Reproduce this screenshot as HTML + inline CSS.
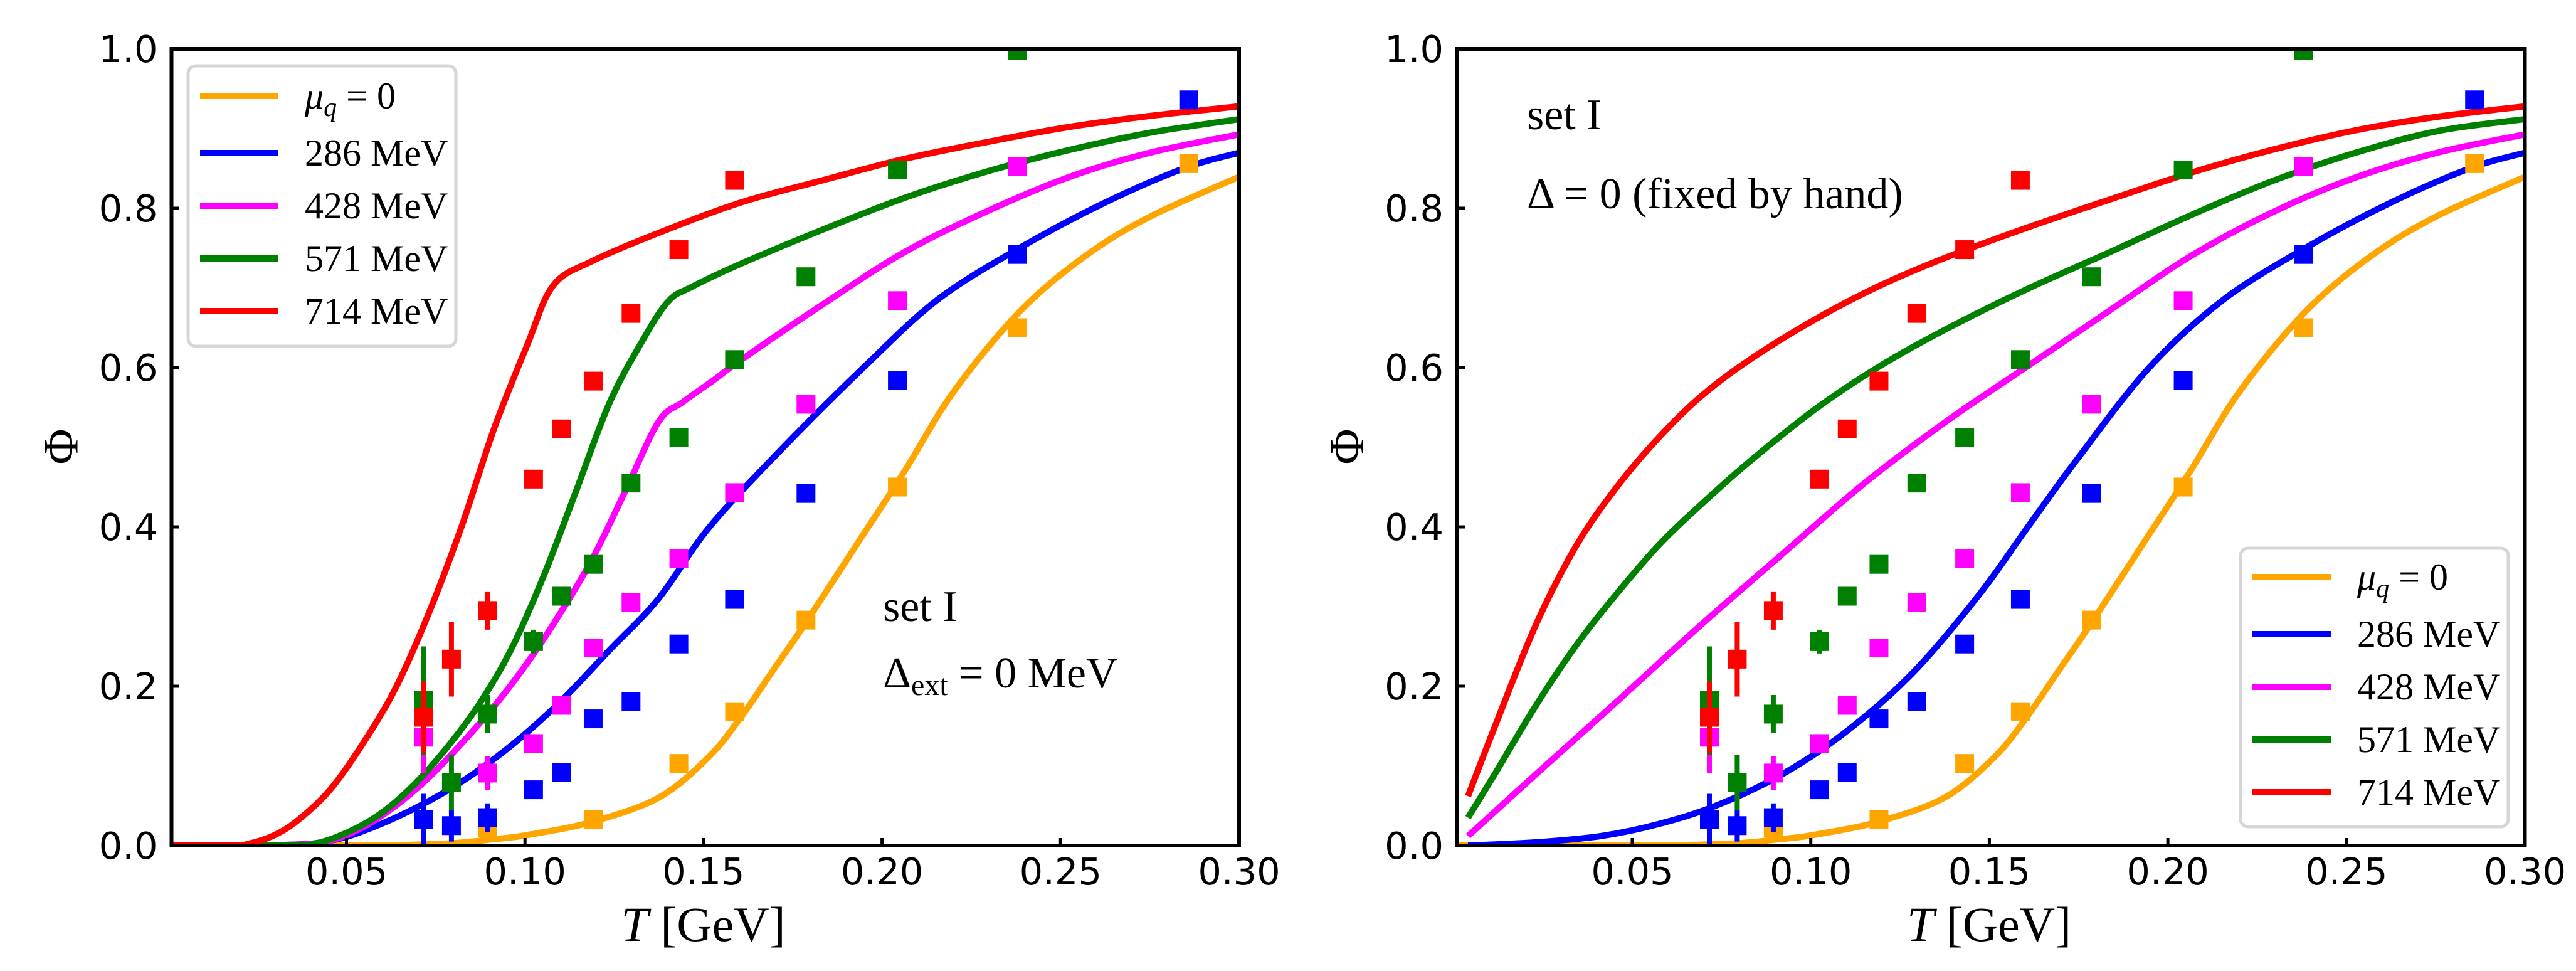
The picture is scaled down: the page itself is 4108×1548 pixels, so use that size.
<!DOCTYPE html>
<html><head><meta charset="utf-8"><style>
html,body{margin:0;padding:0;background:#fff}
svg{display:block}
.tk{font-family:"DejaVu Sans","Liberation Sans",sans-serif;font-size:59px;fill:#000}
.sr{font-family:"Liberation Serif","DejaVu Serif",serif;fill:#000}
</style></head><body>
<svg id="fig" xmlns="http://www.w3.org/2000/svg" width="4108" height="1548" viewBox="0 0 4108 1548"></svg>
<script>
// ---- data ----
const T_data = [0.0716,0.0794,0.0895,0.1024,0.1102,0.1191,0.1297,0.1431,0.1587,0.1787,0.2043,0.2380,0.2859];
const phi_orange = [null,null,0.022,null,null,0.033,null,0.103,0.168,0.283,0.450,0.650,0.856];
const phi_blue = [0.033,0.025,0.035,0.070,0.092,0.159,0.181,0.253,0.309,0.442,0.584,0.742,0.936];
const phi_magenta = [0.136,null,0.091,0.128,0.176,0.248,0.305,0.360,0.443,0.554,0.684,0.852,null];
const phi_green = [0.182,0.079,0.165,0.256,0.313,0.353,0.455,0.512,0.610,0.714,0.848,0.998,null];
const phi_red = [0.161,0.234,0.295,0.460,0.523,0.583,0.668,0.748,0.835,null,null,null,null];
const err_orange = [0,0,0.005,0,0,0.004,0,0.004,0.004,0.004,0.004,0.004,0.004];
const err_blue = [0.032,0.02,0.018,0.01,0.006,0.005,0.005,0.004,0.004,0.004,0.004,0.004,0.004];
const err_magenta = [0.045,0,0.021,0.008,0.006,0.005,0.005,0.004,0.004,0.004,0.004,0.004,0];
const err_green = [0.068,0.035,0.024,0.015,0.006,0.005,0.005,0.004,0.004,0.004,0.004,0.004,0];
const err_red = [0.045,0.047,0.024,0.01,0.006,0.005,0.005,0.004,0.004,0,0,0,0];

const orange_T = [0.0,0.0684,0.0914,0.1029,0.119,0.1374,0.1512,0.1603,0.1695,0.1787,0.1925,0.2063,0.2201,0.2385,0.2569,0.2753,0.3003];
const orange_phi = [0,0.001,0.008,0.015,0.03,0.06,0.11,0.16,0.22,0.28,0.375,0.47,0.57,0.67,0.74,0.79,0.84];

const L_blue_T = [0.0,0.0339,0.0454,0.0546,0.0684,0.0822,0.096,0.1098,0.1236,0.1374,0.1517,0.1724,0.1948,0.2155,0.2385,0.2615,0.2845,0.3003];
const L_blue_phi = [0,0.001,0.006,0.018,0.045,0.08,0.125,0.18,0.245,0.31,0.40,0.50,0.60,0.685,0.75,0.805,0.85,0.87];
const L_mag_T = [0.0,0.035,0.0454,0.0546,0.0638,0.073,0.0822,0.0914,0.1006,0.1098,0.119,0.1282,0.1374,0.1443,0.1534,0.1603,0.1833,0.2063,0.2293,0.2523,0.2753,0.3003];
const L_mag_phi = [0,0.001,0.006,0.023,0.05,0.085,0.128,0.175,0.229,0.291,0.361,0.446,0.532,0.557,0.586,0.609,0.679,0.745,0.796,0.839,0.870,0.893];
const L_green_T = [0.0,0.032,0.0408,0.05,0.0592,0.0684,0.0776,0.0868,0.096,0.1052,0.1144,0.1236,0.1328,0.1401,0.1466,0.1603,0.1833,0.2063,0.2293,0.2523,0.2753,0.3003];
const L_green_phi = [0,0.0,0.002,0.016,0.039,0.074,0.12,0.175,0.245,0.338,0.446,0.555,0.633,0.683,0.701,0.73,0.773,0.813,0.846,0.873,0.895,0.912];
const L_red_T = [0.0,0.0178,0.0224,0.0293,0.0362,0.0454,0.0546,0.0638,0.073,0.0822,0.0914,0.1006,0.1079,0.119,0.1374,0.1603,0.1833,0.2063,0.2293,0.2523,0.2753,0.3003];
const L_red_phi = [0,0,0.002,0.012,0.031,0.07,0.128,0.198,0.291,0.40,0.524,0.628,0.703,0.734,0.769,0.807,0.835,0.862,0.883,0.902,0.916,0.928];

const R_blue_T = [0.004,0.0229,0.0413,0.0574,0.0734,0.0918,0.1102,0.1286,0.147,0.1608,0.1746,0.1948,0.2155,0.2385,0.2615,0.2845,0.3003];
const R_blue_phi = [0,0.004,0.012,0.027,0.05,0.089,0.144,0.217,0.314,0.40,0.485,0.60,0.685,0.75,0.805,0.85,0.87];
const R_mag_T = [0.004,0.0229,0.046,0.069,0.0918,0.1148,0.1378,0.1608,0.1838,0.2068,0.2298,0.2528,0.2757,0.3003];
const R_mag_phi = [0.012,0.089,0.182,0.276,0.365,0.454,0.532,0.602,0.672,0.741,0.796,0.839,0.870,0.893];
const R_green_T = [0.004,0.0114,0.0229,0.0344,0.046,0.0574,0.069,0.0826,0.101,0.1194,0.1378,0.1608,0.1838,0.2068,0.2298,0.2528,0.2757,0.3003];
const R_green_phi = [0.035,0.089,0.175,0.252,0.318,0.377,0.427,0.481,0.547,0.602,0.648,0.699,0.745,0.792,0.835,0.870,0.897,0.912];
const R_red_T = [0.004,0.0114,0.0229,0.0344,0.046,0.0574,0.069,0.0826,0.101,0.1194,0.1378,0.1608,0.1838,0.2068,0.2298,0.2528,0.2757,0.3003];
const R_red_phi = [0.062,0.148,0.276,0.377,0.452,0.512,0.563,0.609,0.66,0.703,0.738,0.776,0.811,0.845,0.874,0.898,0.915,0.928];

const xTicks = [0.05,0.10,0.15,0.20,0.25,0.30];
const xTickLabels = ["0.05","0.10","0.15","0.20","0.25","0.30"];
const yTicks = [0,0.2,0.4,0.6,0.8,1.0];
const yTickLabels = ["0.0","0.2","0.4","0.6","0.8","1.0"];
const legendLabels = ["286 MeV","428 MeV","571 MeV","714 MeV"];

// ---- drawing ----
const NS="http://www.w3.org/2000/svg";
const svg=document.getElementById('fig');
const COL={orange:'#FFA500',blue:'#0000FF',magenta:'#FF00FF',green:'#008000',red:'#FF0000'};
const X0=0.001,X1=0.3,PW=1702.5,PT=78,PB=1348;
function mk(tag,attrs,parent){const e=document.createElementNS(NS,tag);for(const k in attrs)e.setAttribute(k,attrs[k]);(parent||svg).appendChild(e);return e;}
function smooth(P){
  let d='M'+P[0][0].toFixed(1)+','+P[0][1].toFixed(1);
  for(let i=0;i<P.length-1;i++){
    const p0=P[Math.max(i-1,0)],p1=P[i],p2=P[i+1],p3=P[Math.min(i+2,P.length-1)];
    const c1=[p1[0]+(p2[0]-p0[0])/6,p1[1]+(p2[1]-p0[1])/6];
    const c2=[p2[0]-(p3[0]-p1[0])/6,p2[1]-(p3[1]-p1[1])/6];
    d+=' C'+c1[0].toFixed(1)+','+c1[1].toFixed(1)+' '+c2[0].toFixed(1)+','+c2[1].toFixed(1)+' '+p2[0].toFixed(1)+','+p2[1].toFixed(1);
  }
  return d;
}

function panel(px,idx,curves){
  const g=mk('g',{});
  
  
  const sx=t=>px+(t-X0)/(X1-X0)*PW;
  const sy=v=>PB-v*(PB-PT);
  const cid='clip'+idx;
  const cp=mk('clipPath',{id:cid},g);mk('rect',{x:px,y:PT,width:PW,height:PB-PT},cp);
  const plot=mk('g',{'clip-path':'url(#'+cid+')'},g);
  curves.forEach(c=>{
    const P=c.T.map((t,i)=>[sx(t),sy(c.p[i])]);
    const pl=mk('path',{d:smooth(P),fill:'none',stroke:COL[c.col],'stroke-width':10,'stroke-linejoin':'round'},plot);
    
    
  });
  const sets=[['orange',phi_orange,err_orange],['blue',phi_blue,err_blue],['magenta',phi_magenta,err_magenta],['green',phi_green,err_green],['red',phi_red,err_red]];
  sets.forEach(([col,ph,er])=>{
    T_data.forEach((t,i)=>{
      if(ph[i]===null)return;
      const x=sx(t),y=sy(ph[i]);
      if(er[i]>0){const l=mk('line',{x1:x,x2:x,y1:sy(ph[i]-er[i]),y2:sy(ph[i]+er[i]),stroke:COL[col],'stroke-width':8},plot);
        
        }
      const r=mk('rect',{x:x-15,y:y-15,width:30,height:30,fill:COL[col]},plot);
      
      
    });
  });
  const fr=mk('rect',{x:px,y:PT,width:PW,height:PB-PT,fill:'none',stroke:'#000','stroke-width':6},g);
  
  
  xTicks.forEach((t,i)=>{
    const x=sx(t);
    mk('line',{x1:x,x2:x,y1:PB,y2:PB-12,stroke:'#000','stroke-width':5},g);
    const tx=mk('text',{x:x,y:1410,'text-anchor':'middle',class:'tk'},g);tx.textContent=xTickLabels[i];
    
    
  });
  yTicks.forEach((v,i)=>{
    const y=sy(v);
    mk('line',{x1:px,x2:px+12,y1:y,y2:y,stroke:'#000','stroke-width':5},g);
    const tx=mk('text',{x:px-22,y:y+21,'text-anchor':'end',class:'tk'},g);tx.textContent=yTickLabels[i];
    
    
  });
  const xt=mk('text',{x:px+848,y:1500,'text-anchor':'middle',class:'sr','font-size':78},g);
  xt.innerHTML='<tspan font-style="italic">T</tspan> [GeV]';
  
  
  const yt=mk('text',{x:0,y:0,'text-anchor':'middle',class:'sr','font-size':78,transform:'translate('+(px-150)+',712) rotate(-90)'},g);
  yt.textContent='Φ';
  
  
  return g;
}

function legend(g,lx,ly,lw,lh,rows){
  const lg=mk('g',{},g);
  
  
  mk('rect',{x:lx,y:ly,width:lw,height:lh,rx:12,fill:'#fff',stroke:'#d6d6d6','stroke-width':5},lg);
  const cols=['orange','blue','magenta','green','red'];
  cols.forEach((c,i)=>{
    const y=rows[i];
    const e=mk('g',{},lg);
    
    
    mk('line',{x1:lx+19,x2:lx+144,y1:y,y2:y,stroke:COL[c],'stroke-width':10},e);
    const t=mk('text',{x:lx+186,y:y+20,class:'sr','font-size':60},e);
    if(i===0)t.innerHTML='<tspan font-style="italic">μ</tspan><tspan font-style="italic" font-size="42" dy="12">q</tspan><tspan dy="-12"> = 0</tspan>';
    else t.textContent=legendLabels[i-1];
  });
}

const g1=panel(273.5,1,[
  {col:'orange',T:orange_T,p:orange_phi},{col:'blue',T:L_blue_T,p:L_blue_phi},
  {col:'magenta',T:L_mag_T,p:L_mag_phi},{col:'green',T:L_green_T,p:L_green_phi},{col:'red',T:L_red_T,p:L_red_phi}]);
legend(g1,300,105,427,447,[153,244,328,412,496]);
let a=mk('text',{x:1408,y:990,class:'sr','font-size':70},g1);a.textContent='set I';


a=mk('text',{x:1408,y:1096,class:'sr','font-size':70},g1);
a.innerHTML='Δ<tspan font-size="48" dy="12">ext</tspan><tspan dy="-12"> = 0 MeV</tspan>';



const g2=panel(2324,2,[
  {col:'orange',T:orange_T,p:orange_phi},{col:'blue',T:R_blue_T,p:R_blue_phi},
  {col:'magenta',T:R_mag_T,p:R_mag_phi},{col:'green',T:R_green_T,p:R_green_phi},{col:'red',T:R_red_T,p:R_red_phi}]);
legend(g2,3573,874,427,444,[920,1011,1095,1179,1263]);
a=mk('text',{x:2435,y:206,class:'sr','font-size':70},g2);a.textContent='set I';


a=mk('text',{x:2435,y:332,class:'sr','font-size':70},g2);a.textContent='Δ = 0 (fixed by hand)';


</script>
</body></html>
